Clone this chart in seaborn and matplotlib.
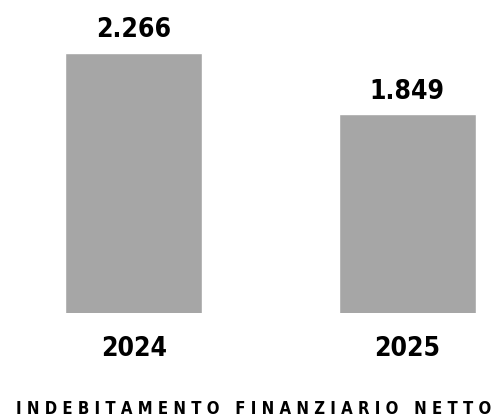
import matplotlib
matplotlib.use("Agg")
import matplotlib.pyplot as plt
import seaborn as sns
import pandas as pd

years = ["2024", "2025"]
values = [2.266, 1.849]
value_labels = ["2.266", "1.849"]
title = "I N D E B I T A M E N T O   F I N A N Z I A R I O   N E T T O"

sns.set_theme(style="white")
plt.rcParams['font.family'] = ['DejaVu Sans']
plt.rcParams['font.stretch'] = 'condensed'

df = pd.DataFrame({"year": years, "value": values})

fig = plt.figure(figsize=(4.98, 4.19), dpi=100)
ax = fig.add_axes([0, 1 - 313.3 / 419, 1, 313.3 / 419])
sns.barplot(data=df, x="year", y="value", color="#a6a6a6", saturation=1,
            width=0.5, ax=ax)
ax.set_xlim(-0.4887, 1.3315)
ax.set_ylim(0.4935, 2.625)
for i, (v, lab) in enumerate(zip(values, value_labels)):
    ax.annotate(lab, (i, v), xytext=(0, 11), textcoords="offset points",
                ha="center", va="baseline", fontsize=19, fontweight="bold",
                fontstretch="condensed", color="black")
ax.set_xlabel("")
ax.set_ylabel("")
ax.set_yticks([])
ax.tick_params(axis="x", length=0, pad=16, labelsize=19, labelcolor="black")
for t in ax.get_xticklabels():
    t.set_fontweight("bold")
    t.set_fontstretch("condensed")
for s in ax.spines.values():
    s.set_visible(False)
fig.text(0.51, 1 - 409 / 419, title, ha="center", va="center",
         fontsize=12, fontweight="bold", fontstretch="condensed", color="black")
fig.savefig("out.png", dpi=100)
